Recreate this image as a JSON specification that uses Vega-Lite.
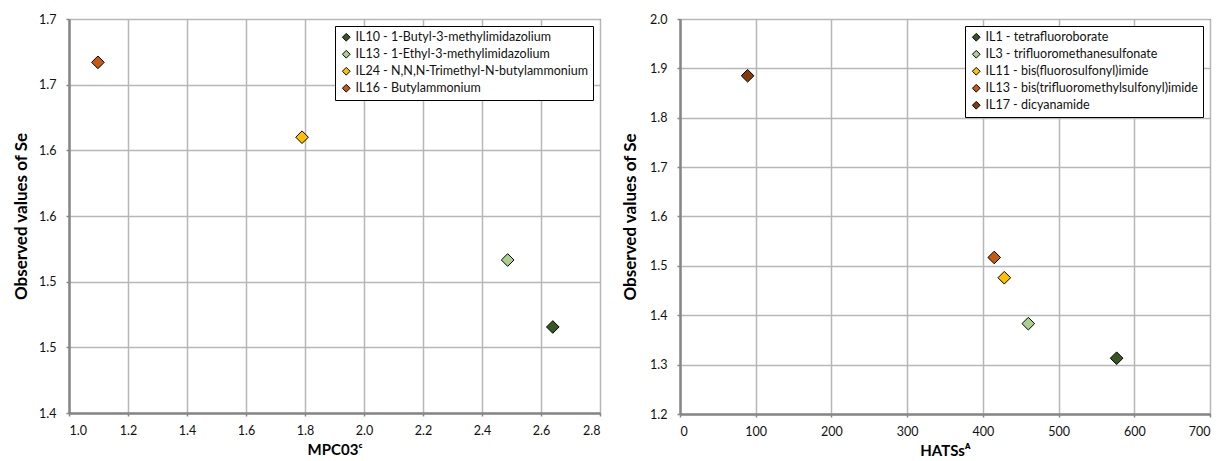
{
  "$schema": "https://vega.github.io/schema/vega-lite/v6.json",
  "padding": {"left": 12, "top": 12, "right": 0, "bottom": 0},
  "background": "white",
  "spacing": 19,
  "config": {
    "view": {"stroke": "#000", "strokeWidth": 1},
    "axis": {
      "domainColor": "#868686", "domainWidth": 2.5,
      "tickColor": "#868686", "tickSize": 3, "tickWidth": 1.5,
      "gridColor": "#b7b7b7", "gridWidth": 1.5,
      "labelFont": "Lato", "labelFontSize": 12.5, "labelColor": "#111",
      "labelPadding": 10,
      "titleFont": "Lato", "titleFontWeight": "bold", "titleColor": "#000"
    },
    "axisX": {"labelPadding": 8, "titlePadding": 6, "titleFontSize": 15},
    "axisY": {"titlePadding": 8, "titleFontSize": 17},
    "legend": {
      "orient": "top-right", "offset": 7, "title": null,
      "strokeColor": "#000", "fillColor": "#fff", "padding": 5,
      "symbolType": "diamond", "symbolSize": 60, "symbolStrokeColor": "#000", "symbolStrokeWidth": 1,
      "labelFont": "Lato", "labelFontSize": 12.5, "labelColor": "#111", "labelLimit": 500,
      "rowPadding": 4, "labelOffset": 3
    }
  },
  "resolve": {"scale": {"color": "independent"}, "legend": {"color": "independent"}},
  "hconcat": [
    {
      "width": 531, "height": 394,
      "data": {"values": [
        {"ion": "IL10 - 1-Butyl-3-methylimidazolium", "mpc": 2.640, "se": 1.4655},
        {"ion": "IL13 - 1-Ethyl-3-methylimidazolium", "mpc": 2.487, "se": 1.5165},
        {"ion": "IL24 - N,N,N-Trimethyl-N-butylammonium", "mpc": 1.790, "se": 1.610},
        {"ion": "IL16 - Butylammonium", "mpc": 1.098, "se": 1.667}
      ]},
      "mark": {"type": "point", "shape": "diamond", "filled": true, "size": 160, "stroke": "#000", "strokeWidth": 1, "opacity": 1},
      "encoding": {
        "x": {"field": "mpc", "type": "quantitative", "title": "MPC03ᶜ",
              "scale": {"domain": [1.0, 2.8], "nice": false, "zero": false},
              "axis": {"values": [1.0, 1.2, 1.4, 1.6, 1.8, 2.0, 2.2, 2.4, 2.6, 2.8], "format": ".1f"}},
        "y": {"field": "se", "type": "quantitative", "title": "Observed values of Se",
              "scale": {"domain": [1.4, 1.7], "nice": false, "zero": false},
              "axis": {"values": [1.4, 1.45, 1.5, 1.55, 1.6, 1.65, 1.7], "labelExpr": "format(datum.value + 0.0001, '.1f')"}},
        "color": {"field": "ion", "type": "nominal",
                  "scale": {"domain": ["IL10 - 1-Butyl-3-methylimidazolium", "IL13 - 1-Ethyl-3-methylimidazolium", "IL24 - N,N,N-Trimethyl-N-butylammonium", "IL16 - Butylammonium"],
                            "range": ["#375623", "#a9d08e", "#ffc000", "#c55a11"]}}
      }
    },
    {
      "width": 530, "height": 395,
      "data": {"values": [
        {"ion": "IL1 - tetrafluoroborate", "hats": 576.7, "se": 1.313},
        {"ion": "IL3 - trifluoromethanesulfonate", "hats": 460, "se": 1.383},
        {"ion": "IL11 - bis(fluorosulfonyl)imide", "hats": 428.3, "se": 1.476},
        {"ion": "IL13 - bis(trifluoromethylsulfonyl)imide", "hats": 415, "se": 1.517},
        {"ion": "IL17 - dicyanamide", "hats": 89.3, "se": 1.885}
      ]},
      "mark": {"type": "point", "shape": "diamond", "filled": true, "size": 160, "stroke": "#000", "strokeWidth": 1, "opacity": 1},
      "encoding": {
        "x": {"field": "hats", "type": "quantitative", "title": "HATSsᴬ",
              "scale": {"domain": [0, 700], "nice": false},
              "axis": {"values": [0, 100, 200, 300, 400, 500, 600, 700], "format": "d"}},
        "y": {"field": "se", "type": "quantitative", "title": "Observed values of Se",
              "scale": {"domain": [1.2, 2.0], "nice": false, "zero": false},
              "axis": {"values": [1.2, 1.3, 1.4, 1.5, 1.6, 1.7, 1.8, 1.9, 2.0], "format": ".1f", "titlePadding": 10}},
        "color": {"field": "ion", "type": "nominal",
                  "scale": {"domain": ["IL1 - tetrafluoroborate", "IL3 - trifluoromethanesulfonate", "IL11 - bis(fluorosulfonyl)imide", "IL13 - bis(trifluoromethylsulfonyl)imide", "IL17 - dicyanamide"],
                            "range": ["#375623", "#a9d08e", "#ffc000", "#c55a11", "#843c0c"]}}
      }
    }
  ]
}
